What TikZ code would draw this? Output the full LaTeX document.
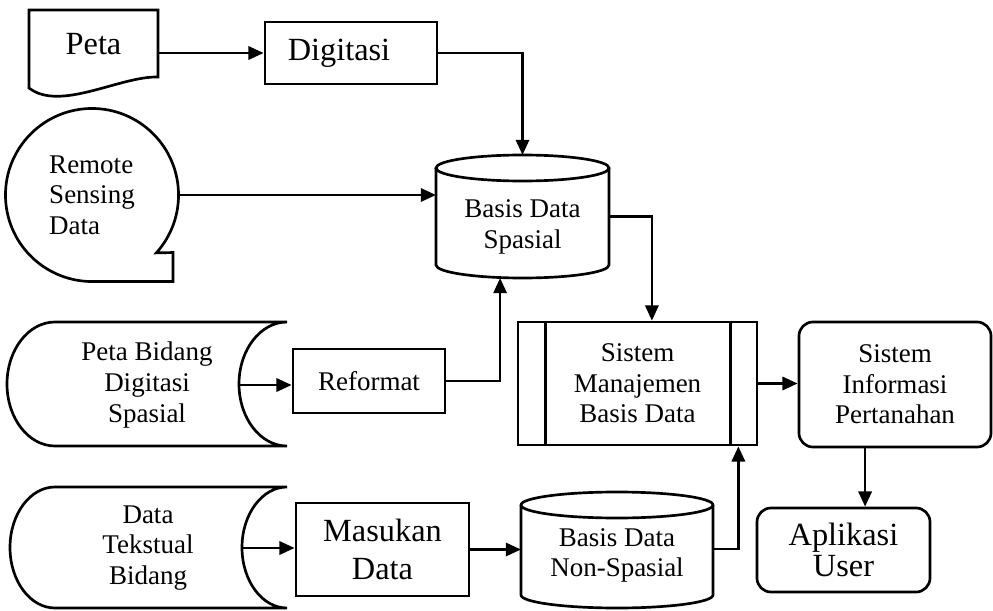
\documentclass[tikz,border=0pt]{standalone}
\usepackage{fontspec}
\setmainfont{Liberation Serif}
\usetikzlibrary{arrows.meta}

\tikzset{
  flow/.style={line width=1.9pt, -{Triangle[length=0.38cm,width=0.33cm]}},
  box/.style={draw, line width=1.9pt, align=center, inner sep=2pt},
  rbox/.style={box, rounded corners=0.35cm},
  shp/.style={align=center, inner sep=0pt, outer sep=0pt},
  txt/.style={font=\fontsize{19.2}{21.8}\selectfont},
  big/.style={font=\fontsize{23}{26.5}\selectfont},
}

\begin{document}
\begin{tikzpicture}[x=0.025cm, y=0.025cm, line width=1.9pt]
\useasboundingbox (0,0) rectangle (993,-611);

% sumber data
\node[shp, big, minimum width=3.225cm] (peta) at (93.5,-44) {Peta};
\draw (29,-10) -- (158,-10) -- (158,-77) .. controls (120,-76) and (60,-112) .. (29,-88) -- cycle;

\node[shp, txt, align=left, circle, minimum size=4.325cm] (rsd) at (92,-195) {Remote\\Sensing\\Data};
\draw (rsd.center) ++(-42:2.1625cm) arc[start angle=-42, end angle=270, radius=2.1625cm] -- ++(81,0) -- ++(0,29) -- cycle;

\node[shp, txt, minimum width=4.6cm] (pbd) at (147,-385) {Peta Bidang\\Digitasi\\Spasial};
\draw (55,-322) -- (287,-322) arc[start angle=90, end angle=270, x radius=48, y radius=62]
  -- (55,-446) arc[start angle=270, end angle=90, x radius=48, y radius=62] -- cycle;

\node[shp, txt, minimum width=4.7cm] (dtb) at (148,-548) {Data\\Tekstual\\Bidang};
\draw (55,-487) -- (287,-487) arc[start angle=90, end angle=270, x radius=45, y radius=60.5]
  -- (55,-608) arc[start angle=270, end angle=90, x radius=45, y radius=60.5] -- cycle;

% proses
\node[box, big, minimum width=4.3cm, minimum height=1.55cm] (digitasi) at (351,-53) {Digitasi\hspace{0.6cm}};
\node[box, txt, minimum width=3.8cm, minimum height=1.6cm] (reformat) at (369,-381) {Reformat};
\node[box, big, minimum width=4.325cm, minimum height=2.325cm] (masukan) at (382.5,-549.5) {Masukan\\Data};

% basis data
\node[shp, minimum width=4.325cm, minimum height=3.075cm,
  label={[txt, align=center, yshift=-0.26cm]center:{Basis Data\\Spasial}}] (bds) at (522.5,-216.5) {};
\draw (436,-168) -- (436,-265) arc[start angle=180, end angle=360, x radius=86.5, y radius=13] -- (609,-168);
\draw (522.5,-168) ellipse [x radius=86.5, y radius=13];

\node[shp, minimum width=4.8cm, minimum height=2.9cm,
  label={[txt, align=center, yshift=-0.16cm]center:{Basis Data\\Non-Spasial}}] (bdn) at (617,-549) {};
\draw (521,-505) -- (521,-595) arc[start angle=180, end angle=360, x radius=96, y radius=13] -- (713,-505);
\draw (617,-505) ellipse [x radius=96, y radius=13];

\node[box, txt, minimum width=5.975cm, minimum height=3.075cm] (smbd) at (637.5,-383.5) {Sistem\\Manajemen\\Basis Data};
\draw ([xshift=0.72cm]smbd.north west) -- ([xshift=0.72cm]smbd.south west);
\draw ([xshift=-0.7cm]smbd.north east) -- ([xshift=-0.7cm]smbd.south east);

\node[rbox, txt, minimum width=4.8cm, minimum height=3.125cm] (sip) at (895,-384.5) {Sistem\\Informasi\\Pertanahan};
\node[rbox, big, minimum width=4.325cm, minimum height=2.1cm] (apl) at (843.5,-550) {Aplikasi\\[-5pt]User};

% aliran
\draw[flow] (peta.east |- digitasi.west) -- (digitasi.west);
\draw[flow] (digitasi.east) -| (bds.north);
\draw[flow] (rsd.east) -- (rsd.east -| bds.west);
\draw[flow] (pbd.east) -- (pbd.east -| reformat.west);
\draw[flow] (reformat.east) -| ([xshift=-0.56cm]bds.south);
\draw[flow] (bds.east) -| ([xshift=0.36cm]smbd.north);
\draw[flow] (dtb.east) -- (dtb.east -| masukan.west);
\draw[flow] (masukan.east) -- (masukan.east -| bdn.west);
\draw[flow] (bdn.east) -| ([xshift=-0.5cm]smbd.south east);
\draw[flow] (smbd.east) -- (smbd.east -| sip.west);
\draw[flow] ([xshift=0.54cm]apl.north |- sip.south) -- ([xshift=0.54cm]apl.north);
\end{tikzpicture}
\end{document}
